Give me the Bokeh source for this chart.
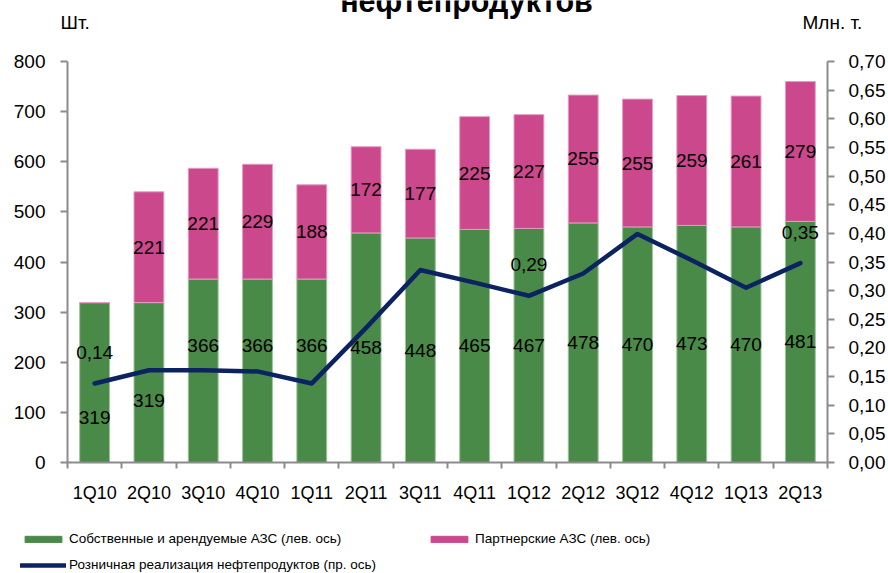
import numpy as np
from bokeh.plotting import figure
from bokeh.layouts import column
from bokeh.models import (ColumnDataSource, Range1d, LinearAxis, FixedTicker,
                          CustomJSTickFormatter, Legend, LegendItem)
from bokeh.core.properties import value
from bokeh.embed import file_html
from bokeh.resources import INLINE

# ---------------- data ----------------
quarters = ["1Q10", "2Q10", "3Q10", "4Q10", "1Q11", "2Q11", "3Q11",
            "4Q11", "1Q12", "2Q12", "3Q12", "4Q12", "1Q13", "2Q13"]
own_stations = [319, 319, 366, 366, 366, 458, 448, 465, 467, 478, 470, 473, 470, 481]
partner_stations = [0, 221, 221, 229, 188, 172, 177, 225, 227, 255, 255, 259, 261, 279]
retail_sales = [0.138, 0.161, 0.161, 0.159, 0.138, 0.235, 0.336, 0.314,
                0.291, 0.330, 0.399, 0.353, 0.305, 0.348]
retail_labelled = ["1Q10", "1Q12", "2Q13"]
left_ticks = [0, 100, 200, 300, 400, 500, 600, 700, 800]
right_ticks = [0.00, 0.05, 0.10, 0.15, 0.20, 0.25, 0.30, 0.35,
               0.40, 0.45, 0.50, 0.55, 0.60, 0.65, 0.70]
title_text = "нефтепродуктов"
left_unit = "Шт."
right_unit = "Млн. т."
legend_labels = ["Собственные и арендуемые АЗС (лев. ось)",
                 "Партнерские АЗС (лев. ось)",
                 "Розничная реализация нефтепродуктов (пр. ось)"]

# ---------------- styling ----------------
FONT = "Liberation Sans"
GREEN = "#4a8a48"
PINK = "#cb488c"
NAVY = "#0b2360"
AXIS = "#8c8c8c"
W = 888
HEAD_H = 48
MAIN_H = 462
FOOT_H = 63
own_label_shift = [35, 18, -25, -25, -25, 0, 0, 0, 0, 0, 0, 0, 0, 0]  # px nudges

n = len(quarters)
xs = list(range(n))
totals = [o + q for o, q in zip(own_stations, partner_stations)]

# ---------------- header (title cut at the top + unit captions) ----------------
head = figure(width=W, height=HEAD_H, output_backend="svg", toolbar_location=None,
              x_range=Range1d(0, W), y_range=Range1d(HEAD_H, 0),
              x_axis_type=None, y_axis_type=None, min_border=0,
              outline_line_color=None, border_fill_color="white",
              background_fill_color="white")
head.frame_align = False
head.grid.visible = False
head.text(x=[466], y=[0], text=[title_text], text_align="center",
          text_baseline="alphabetic", text_font=value(FONT),
          text_font_style="bold", text_font_size="30.5px", text_color="black")
head.text(x=[60, 802], y=[22, 22], text=[left_unit, right_unit], text_align="left",
          text_baseline="middle", text_font=value(FONT), text_font_size="19px",
          text_color="black")

# ---------------- main chart ----------------
bars = ColumnDataSource(dict(x=xs, own=own_stations, total=totals))

p = figure(width=W, height=MAIN_H, output_backend="svg", toolbar_location=None,
           x_range=Range1d(-0.5, n - 0.5), y_range=Range1d(0, 800),
           min_border_left=67, min_border_right=61, min_border_top=13,
           min_border_bottom=48, outline_line_color=None,
           background_fill_color="white", border_fill_color="white")
p.frame_align = False
p.xgrid.visible = False
p.ygrid.visible = False
p.extra_y_ranges = {"r": Range1d(0, 0.70)}

xa = p.xaxis[0]
xa.ticker = FixedTicker(ticks=xs, minor_ticks=[i - 0.5 for i in range(n + 1)])
xa.formatter = CustomJSTickFormatter(args=dict(labels=quarters),
                                     code="const i = Math.round(tick); return labels[i] || '';")
xa.major_tick_line_color = None
xa.major_tick_out = 0
xa.major_tick_in = 0
xa.minor_tick_in = 0
xa.minor_tick_out = 6
xa.minor_tick_line_color = AXIS
xa.minor_tick_line_width = 2
xa.axis_line_color = AXIS
xa.axis_line_width = 2
xa.major_label_standoff = 14
xa.major_label_text_font = FONT
xa.major_label_text_font_size = "18px"
xa.major_label_text_color = "black"

ya = p.yaxis[0]
ya.ticker = FixedTicker(ticks=left_ticks)
ya.major_tick_in = 0
ya.major_tick_out = 7
ya.minor_tick_line_color = None
ya.major_tick_line_color = AXIS
ya.major_tick_line_width = 2
ya.axis_line_color = AXIS
ya.axis_line_width = 2
ya.major_label_standoff = 15
ya.major_label_text_font = FONT
ya.major_label_text_font_size = "19px"
ya.major_label_text_color = "black"

ra = LinearAxis(y_range_name="r", ticker=FixedTicker(ticks=right_ticks),
                formatter=CustomJSTickFormatter(code="return tick.toFixed(2).replace('.', ',');"))
ra.major_tick_in = 0
ra.major_tick_out = 7
ra.minor_tick_line_color = None
ra.major_tick_line_color = AXIS
ra.major_tick_line_width = 2
ra.axis_line_color = AXIS
ra.axis_line_width = 2
ra.major_label_standoff = 14
ra.major_label_text_font = FONT
ra.major_label_text_font_size = "19px"
ra.major_label_text_color = "black"
p.add_layout(ra, "right")

p.vbar(x="x", width=0.55, bottom=0, top="own", source=bars,
       fill_color=GREEN, line_color="#9cc49a", line_width=1)
p.vbar(x="x", width=0.55, bottom="own", top="total", source=bars,
       fill_color=PINK, line_color="#e59cc3", line_width=1)

line_src = ColumnDataSource(dict(x=xs, y=retail_sales))
p.line(x="x", y="y", source=line_src, y_range_name="r", line_color=NAVY,
       line_width=4.5, line_join="round", line_cap="round")

own_lbl = ColumnDataSource(dict(x=xs, y=[o / 2 for o in own_stations],
                                t=[str(o) for o in own_stations], dy=own_label_shift))
p.text(x="x", y="y", text="t", y_offset="dy", source=own_lbl, text_align="center",
       text_baseline="middle", text_font=value(FONT), text_font_size="19px",
       text_color="black")

pidx = [i for i in xs if partner_stations[i] > 0]
part_lbl = ColumnDataSource(dict(x=pidx,
                                 y=[own_stations[i] + partner_stations[i] / 2 for i in pidx],
                                 t=[str(partner_stations[i]) for i in pidx]))
p.text(x="x", y="y", text="t", source=part_lbl, text_align="center",
       text_baseline="middle", text_font=value(FONT), text_font_size="19px",
       text_color="black")

ridx = [quarters.index(q) for q in retail_labelled]
ret_lbl = ColumnDataSource(dict(x=ridx, y=[retail_sales[i] for i in ridx],
                                t=[f"{retail_sales[i]:.2f}".replace(".", ",") for i in ridx]))
p.text(x="x", y="y", text="t", source=ret_lbl, y_range_name="r", y_offset=-31,
       text_align="center", text_baseline="middle", text_font=value(FONT),
       text_font_size="19px", text_color="black")

# ---------------- footer legend ----------------
foot = figure(width=W, height=FOOT_H, output_backend="svg", toolbar_location=None,
              x_range=Range1d(0, 1), y_range=Range1d(0, 1),
              x_axis_type=None, y_axis_type=None, min_border=0,
              outline_line_color=None, border_fill_color="white",
              background_fill_color="white")
foot.frame_align = False
foot.grid.visible = False
nan = np.array([np.nan])
lg_g = foot.vbar(x=nan, top=nan, width=0.5, fill_color=GREEN, line_color=GREEN)
lg_p = foot.vbar(x=nan, top=nan, width=0.5, fill_color=PINK, line_color=PINK)
lg_l = foot.line(x=nan, y=nan, line_color=NAVY, line_width=4.5, line_cap="round")

legend = Legend(items=[
    LegendItem(label=legend_labels[0], renderers=[lg_g]),
    LegendItem(label=legend_labels[1], renderers=[lg_p]),
    LegendItem(label=legend_labels[2], renderers=[lg_l]),
], location=(20, 1), orientation="horizontal", ncols=2,
    glyph_width=46, glyph_height=8, label_standoff=3, label_width=346,
    label_height=8, spacing=11, padding=0, margin=0, border_line_color=None,
    background_fill_alpha=0, label_text_font=FONT, label_text_font_size="13.5px",
    label_text_color="black")
foot.add_layout(legend, "center")

layout = column(head, p, foot, spacing=0)
open("out.html", "w").write(file_html(layout, INLINE))
